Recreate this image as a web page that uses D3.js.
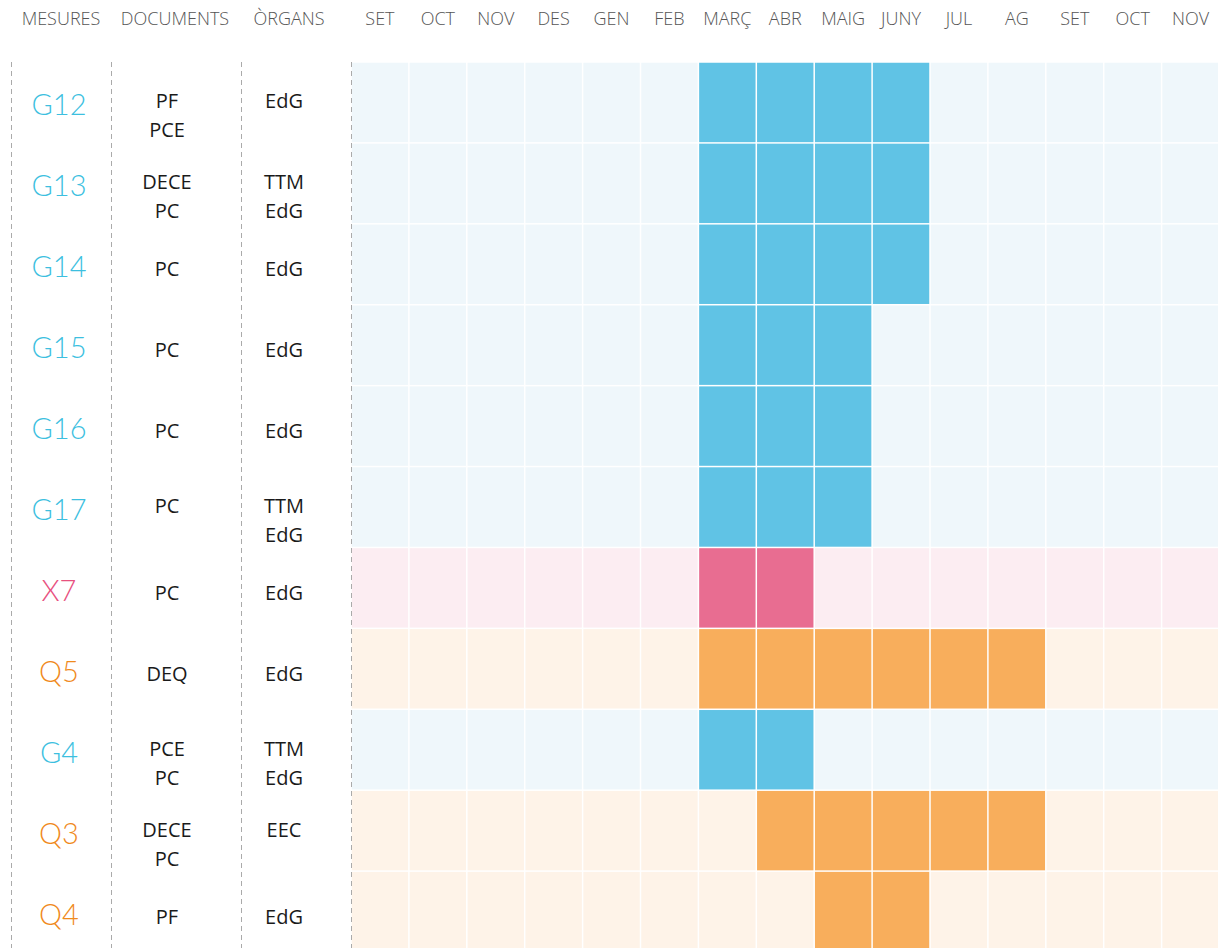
<!DOCTYPE html>
<html>
<head>
<meta charset="utf-8">
<style>
    html, body {
        margin: 0;
        padding: 0;
        background: #ffffff;
        font-family: "Open Sans";
    }
    svg { display: block; }
    .head { fill: #555555; font-size: 18px; font-weight: 300; }
    .doc { fill: #1a1a1a; font-size: 20px; font-weight: 400; }
    .measure { font-family: "Lato"; font-weight: 300; font-size: 29px; }
</style>
</head>
<body>
<div id="chart"></div>

<script src="https://d3js.org/d3.v7.min.js"></script>
<script>
    // month columns (two school years overlap, so keyed by index)
    var months = ["SET", "OCT", "NOV", "DES", "GEN", "FEB", "MARÇ", "ABR", "MAIG", "JUNY", "JUL", "AG", "SET", "OCT", "NOV"];

    // one entry per row
    var measures = ["G12", "G13", "G14", "G15", "G16", "G17", "X7", "Q5", "G4", "Q3", "Q4"];
    var groups = ["G", "G", "G", "G", "G", "G", "X", "Q", "G", "Q", "Q"];
    var documents = [["PF", "PCE"], ["DECE", "PC"], ["PC"], ["PC"], ["PC"], ["PC"], ["PC"], ["DEQ"], ["PCE", "PC"], ["DECE", "PC"], ["PF"]];
    var organs = [["EdG"], ["TTM", "EdG"], ["EdG"], ["EdG"], ["EdG"], ["TTM", "EdG"], ["EdG"], ["EdG"], ["TTM", "EdG"], ["EEC"], ["EdG"]];

    // active months: first and last column index
    var startMonth = [6, 6, 6, 6, 6, 6, 6, 6, 6, 7, 8];
    var endMonth = [9, 9, 9, 8, 8, 8, 7, 11, 7, 11, 9];

    var headers = ["MESURES", "DOCUMENTS", "ÒRGANS"];

    var colors = {
        G: { text: "#3dbfdf", on: "#60c3e5", off: "#eff7fb" },
        X: { text: "#e8517f", on: "#e86d91", off: "#fcedf2" },
        Q: { text: "#f08a1c", on: "#f8ae5c", off: "#fef3e8" }
    };

    var width = 1218, height = 948;

    var svg = d3.select("#chart").append("svg")
        .attr("width", width)
        .attr("height", height);

    var xscale = d3.scaleBand()
        .domain(d3.range(months.length))
        .range([351, 1219.5]);

    var yscale = d3.scaleBand()
        .domain(d3.range(measures.length))
        .range([62, 952]);

    // left text columns
    var colCenter = { measure: 59, doc: 167, organ: 284 };
    var headerCenter = [61, 175, 289];
    var dividers = [11, 111, 241, 351];

    // header labels
    svg.selectAll(".hdr")
        .data(headers)
        .enter().append("text")
        .attr("class", "head")
        .attr("x", function (d, i) { return headerCenter[i]; })
        .attr("y", 25)
        .attr("text-anchor", "middle")
        .text(function (d) { return d; });

    svg.selectAll(".month")
        .data(months)
        .enter().append("text")
        .attr("class", "head")
        .attr("x", function (d, i) { return xscale(i) + xscale.bandwidth() / 2; })
        .attr("y", 25)
        .attr("text-anchor", "middle")
        .text(function (d) { return d; });

    // cells
    var cells = [];
    measures.forEach(function (m, r) {
        months.forEach(function (mo, c) {
            cells.push({ r: r, c: c, on: c >= startMonth[r] && c <= endMonth[r] });
        });
    });

    svg.selectAll(".cell")
        .data(cells)
        .enter().append("rect")
        .attr("class", "cell")
        .attr("x", function (d) { return xscale(d.c) + 0.75; })
        .attr("y", function (d) { return yscale(d.r) + 0.75; })
        .attr("width", xscale.bandwidth() - 1.5)
        .attr("height", yscale.bandwidth() - 1.5)
        .attr("fill", function (d) {
            var col = colors[groups[d.r]];
            return d.on ? col.on : col.off;
        });

    // dashed dividers
    svg.selectAll(".divider")
        .data(dividers)
        .enter().append("line")
        .attr("x1", function (d) { return d + 0.5; })
        .attr("x2", function (d) { return d + 0.5; })
        .attr("y1", 62)
        .attr("y2", height)
        .attr("stroke", "#aaaaaa")
        .attr("stroke-width", 1)
        .attr("stroke-dasharray", "5,4");

    // row labels
    var rows = svg.selectAll(".row")
        .data(measures)
        .enter().append("g")
        .attr("class", "row")
        .attr("transform", function (d, i) {
            return "translate(0," + (yscale(i) + yscale.bandwidth() / 2) + ")";
        });

    rows.append("text")
        .attr("class", "measure")
        .attr("x", colCenter.measure)
        .attr("y", 13)
        .attr("text-anchor", "middle")
        .attr("fill", function (d, i) { return colors[groups[i]].text; })
        .text(function (d) { return d; });

    // text in the two middle columns is top aligned within a row
    function lines(sel, list, cx) {
        sel.each(function (d, i) {
            var g = d3.select(this);
            var n = Math.max(documents[i].length, organs[i].length);
            var top = n > 1 ? 6 : 12;
            list[i].forEach(function (t, k) {
                g.append("text")
                    .attr("class", "doc")
                    .attr("x", cx)
                    .attr("y", top + k * 29)
                    .attr("text-anchor", "middle")
                    .text(t);
            });
        });
    }

    lines(rows, documents, colCenter.doc);
    lines(rows, organs, colCenter.organ);
</script>
</body>
</html>
